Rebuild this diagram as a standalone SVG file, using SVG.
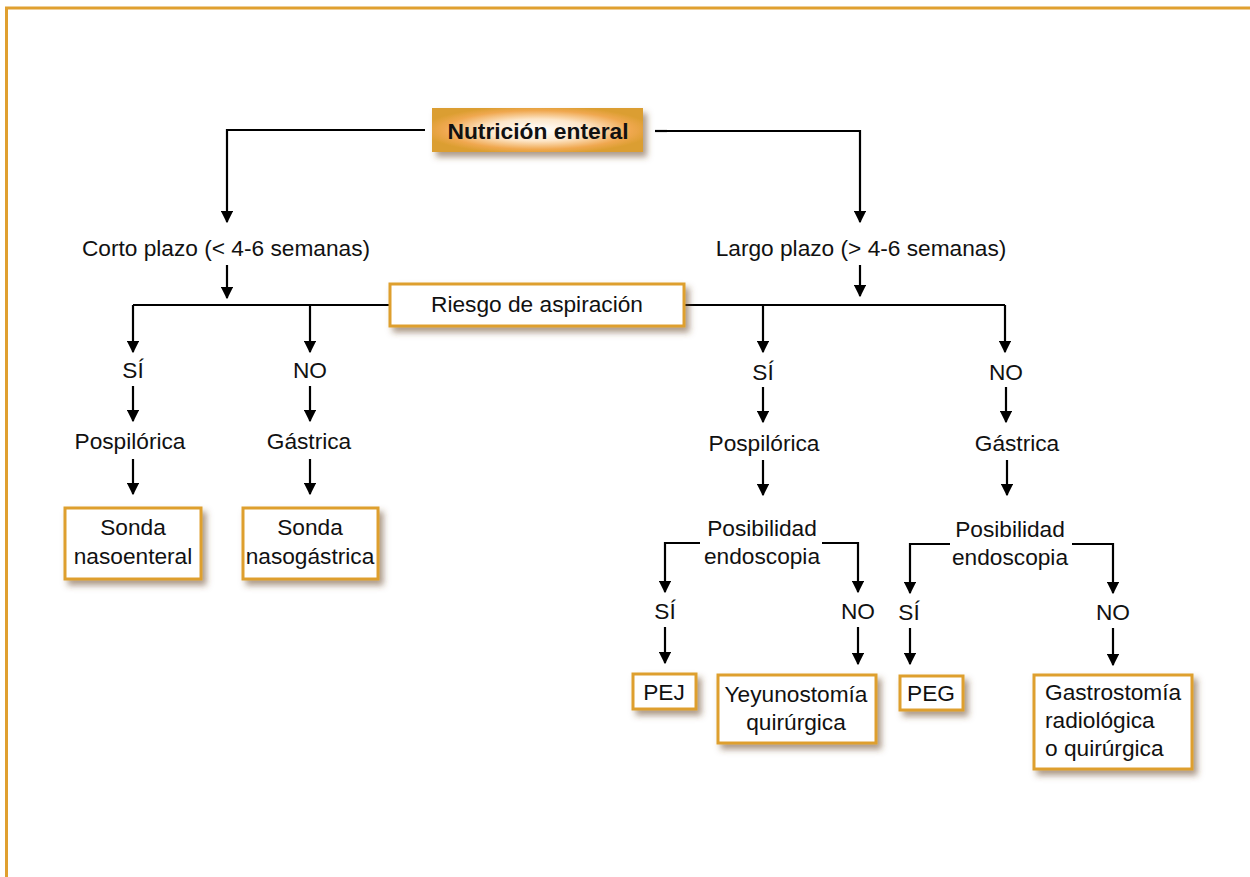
<svg xmlns="http://www.w3.org/2000/svg" width="1250" height="877" viewBox="0 0 1250 877">
<defs>
<style>
.t{font-family:"Liberation Sans",Arial,sans-serif;font-size:22.7px;fill:#111;text-anchor:middle}
.tl{text-anchor:start}
.b{font-weight:bold;font-size:22.8px}
.box{fill:#fff;stroke:#DE9F2E;stroke-width:3;filter:url(#sh)}
.ln{fill:none;stroke:#000;stroke-width:2.2;marker-end:url(#ah)}
.pl{fill:none;stroke:#000;stroke-width:2.2}
</style>
<marker id="ah" viewBox="0 0 10 10" refX="9" refY="5" markerWidth="5.5" markerHeight="5.5" orient="auto" markerUnits="strokeWidth">
<path d="M0,0 L10,5 L0,10 z" fill="#000"/>
</marker>
<filter id="sh" x="-20%" y="-30%" width="150%" height="180%">
<feDropShadow dx="4" dy="5" stdDeviation="3" flood-color="#6b4a2a" flood-opacity="0.55"/>
</filter>
<radialGradient id="rg" cx="0.5" cy="0.5" r="0.55">
<stop offset="0" stop-color="#fff"/>
<stop offset="0.45" stop-color="#fde6c8"/>
<stop offset="0.8" stop-color="#f0a850"/>
<stop offset="1" stop-color="#DB9E30"/>
</radialGradient>
</defs>
<rect width="1250" height="877" fill="#fff"/>
<path d="M6.5,877 V8 H1250" fill="none" stroke="#E0A030" stroke-width="3"/>

<g id="connectors">
<path class="ln" d="M425,130 H227 V222"/>
<path class="ln" d="M665,131 H860 V222"/>
<path class="pl" d="M655,131 H667" stroke-width="3.5"/>
<path class="ln" d="M227,265 V298"/>
<path class="ln" d="M860,265 V296"/>
<path class="pl" d="M133,305 H1005"/>
<path class="ln" d="M133,305 V352"/>
<path class="ln" d="M310,305 V352"/>
<path class="ln" d="M763,305 V352"/>
<path class="ln" d="M1005,305 V352"/>
<path class="ln" d="M133,386 V421"/>
<path class="ln" d="M310,386 V421"/>
<path class="ln" d="M763,387 V422"/>
<path class="ln" d="M1006,387 V422"/>
<path class="ln" d="M133,459 V494"/>
<path class="ln" d="M310,459 V494"/>
<path class="ln" d="M763,460 V495"/>
<path class="ln" d="M1007,460 V495"/>
<path class="ln" d="M700,543 H665 V592"/>
<path class="ln" d="M822,543 H858 V592"/>
<path class="ln" d="M950,544 H910 V593"/>
<path class="ln" d="M1072,544 H1113 V593"/>
<path class="ln" d="M665,627 V663"/>
<path class="ln" d="M858,627 V664"/>
<path class="ln" d="M910,628 V664"/>
<path class="ln" d="M1113,628 V665"/>
</g>

<g id="n-nutricion">
<rect x="432" y="108" width="211" height="44" fill="url(#rg)" filter="url(#sh)"/>
<text class="t b" x="538" y="139">Nutrición enteral</text>
</g>
<g id="n-corto"><text class="t" x="226" y="256">Corto plazo (&lt; 4-6 semanas)</text></g>
<g id="n-largo"><text class="t" x="861" y="256">Largo plazo (&gt; 4-6 semanas)</text></g>
<g id="n-riesgo">
<rect class="box" x="390" y="284" width="294" height="42"/>
<text class="t" x="537" y="312">Riesgo de aspiración</text>
</g>
<g id="n-si1"><text class="t" x="133" y="378">SÍ</text></g>
<g id="n-no1"><text class="t" x="310" y="378">NO</text></g>
<g id="n-si2"><text class="t" x="763" y="380">SÍ</text></g>
<g id="n-no2"><text class="t" x="1006" y="380">NO</text></g>
<g id="n-pos1"><text class="t" x="130" y="449">Pospilórica</text></g>
<g id="n-gas1"><text class="t" x="309" y="449">Gástrica</text></g>
<g id="n-pos2"><text class="t" x="764" y="451">Pospilórica</text></g>
<g id="n-gas2"><text class="t" x="1017" y="451">Gástrica</text></g>
<g id="n-sne">
<rect class="box" x="65" y="508" width="136" height="71"/>
<text class="t" x="133" y="535">Sonda</text>
<text class="t" x="133" y="564">nasoenteral</text>
</g>
<g id="n-sng">
<rect class="box" x="243" y="508" width="135" height="71"/>
<text class="t" x="310" y="535">Sonda</text>
<text class="t" x="310" y="564">nasogástrica</text>
</g>
<g id="n-endo1">
<text class="t" x="762" y="536">Posibilidad</text>
<text class="t" x="762" y="564">endoscopia</text>
</g>
<g id="n-endo2">
<text class="t" x="1010" y="537">Posibilidad</text>
<text class="t" x="1010" y="565">endoscopia</text>
</g>
<g id="n-si3"><text class="t" x="665" y="619">SÍ</text></g>
<g id="n-no3"><text class="t" x="858" y="619">NO</text></g>
<g id="n-si4"><text class="t" x="909" y="620">SÍ</text></g>
<g id="n-no4"><text class="t" x="1113" y="620">NO</text></g>
<g id="n-pej">
<rect class="box" x="633" y="674" width="63" height="35"/>
<text class="t" x="664" y="700">PEJ</text>
</g>
<g id="n-yey">
<rect class="box" x="718" y="675" width="158" height="68"/>
<text class="t" x="796" y="702">Yeyunostomía</text>
<text class="t" x="796" y="730">quirúrgica</text>
</g>
<g id="n-peg">
<rect class="box" x="900" y="676" width="63" height="34"/>
<text class="t" x="931" y="701">PEG</text>
</g>
<g id="n-gastro">
<rect class="box" x="1034" y="675" width="158" height="94"/>
<text class="t tl" x="1045" y="700">Gastrostomía</text>
<text class="t tl" x="1045" y="728">radiológica</text>
<text class="t tl" x="1045" y="756">o quirúrgica</text>
</g>
</svg>
